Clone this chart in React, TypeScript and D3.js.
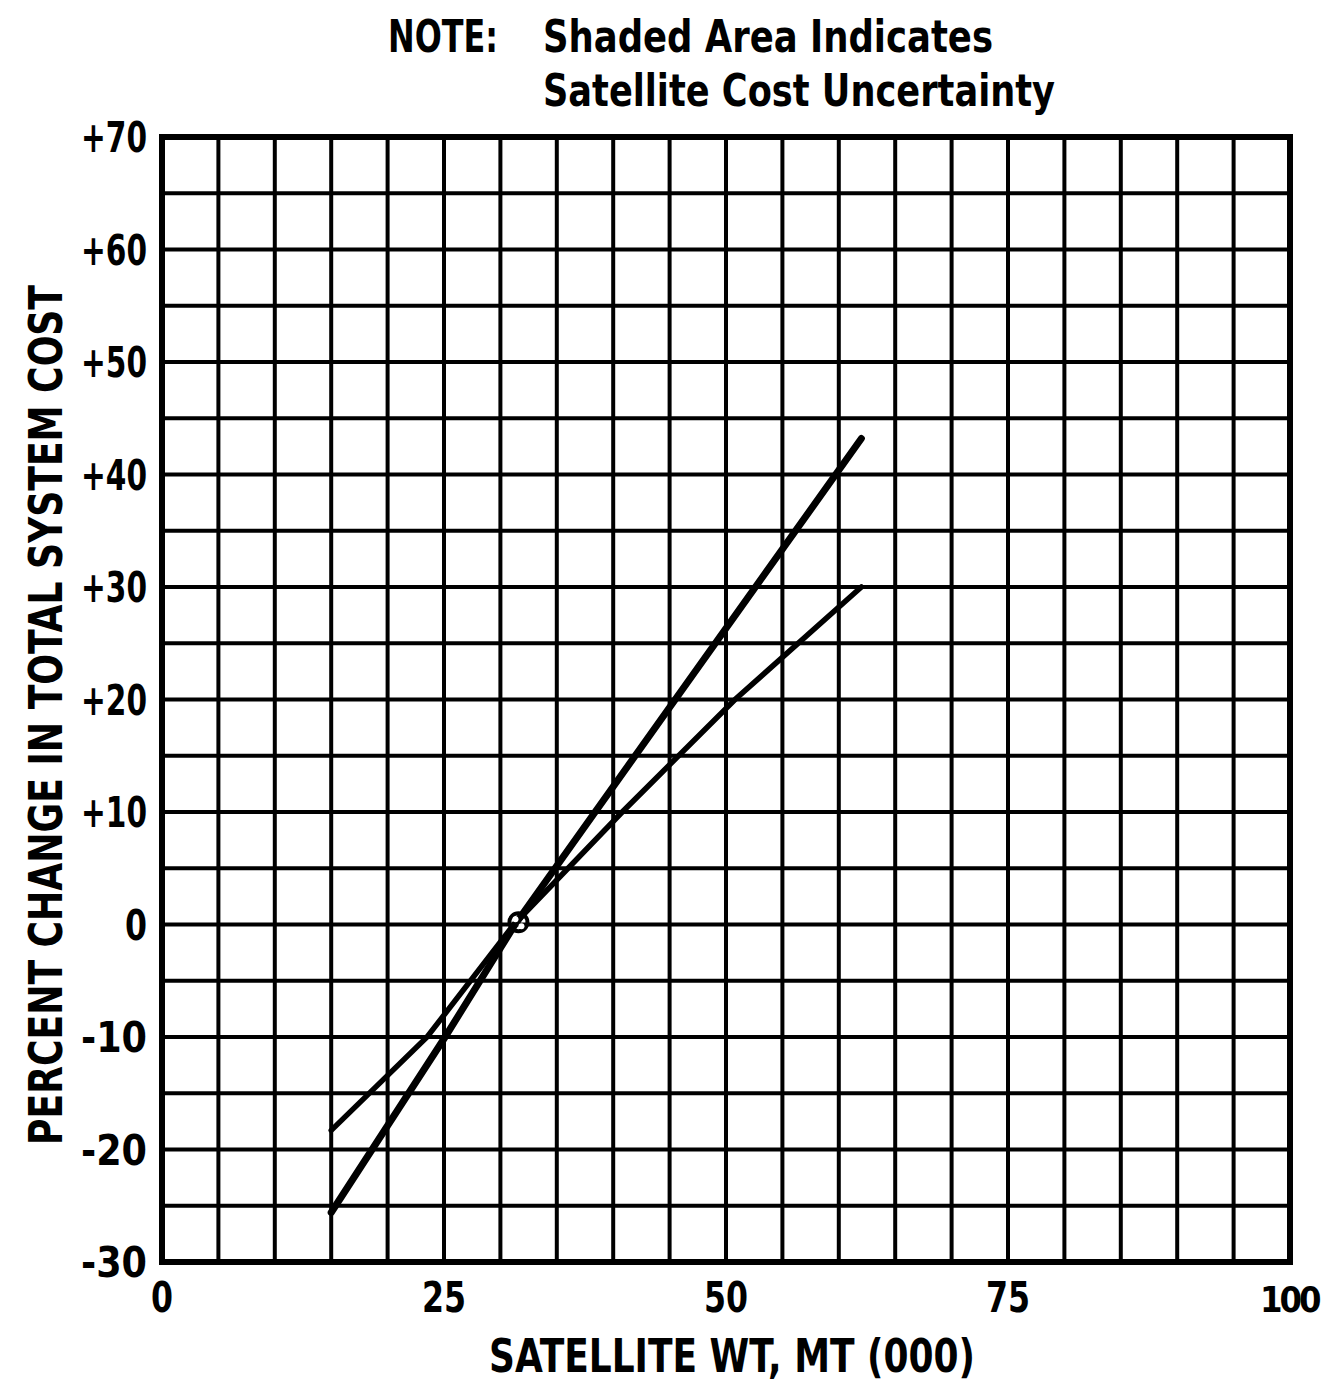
import React from "react";
import * as d3 from "d3";

const xTicks = [0, 25, 50, 75, 100];
const xTickLabels = ["0", "25", "50", "75", "100"];
const yTicks = [70, 60, 50, 40, 30, 20, 10, 0, -10, -20, -30];
const yTickLabels = ["+70", "+60", "+50", "+40", "+30", "+20", "+10", "0", "-10", "-20", "-30"];

// upper bound (steep) and lower bound (shallow) of satellite cost uncertainty
const steepX = [15, 25.1, 31.3, 45.5, 62];
const steepY = [-25.6, -10, 0, 20, 43.2];
const shallowX = [15, 23.5, 31.2, 40.8, 50.8, 62];
const shallowY = [-18.3, -10, 0, 10, 20, 30];
const refPoint = { x: 31.6, y: 0.2 };

const xTitle = "SATELLITE WT,  MT (000)";
const yTitle = "PERCENT CHANGE IN TOTAL SYSTEM COST";
const noteLead = "NOTE:";
const noteLines = ["Shaded Area Indicates", "Satellite Cost Uncertainty"];

const W = 1329;
const H = 1386;
const FONT = "'DejaVu Sans Condensed', 'Liberation Sans Narrow', sans-serif";

export default function App() {
  const x = d3.scaleLinear().domain([0, 100]).range([162, 1290]);
  const y = d3.scaleLinear().domain([-30, 70]).range([1262, 137]);
  const gridX = d3.range(0, 101, 5);
  const gridY = d3.range(-30, 71, 5);

  const line = d3
    .line<[number, number]>()
    .x((d) => x(d[0]))
    .y((d) => y(d[1]));
  const steep: [number, number][] = steepX.map((v, i) => [v, steepY[i]]);
  const shallow: [number, number][] = shallowX.map((v, i) => [v, shallowY[i]]);

  const xLabelLen = (s: string) => (s.length === 1 ? 22 : 44);
  const yLabelLen = (s: string) => (s.length === 1 ? 22 : 66);

  return (
    <svg
      width={W}
      height={H}
      style={{ position: "absolute", left: 0, top: 0, background: "#fff" }}
      fontFamily={FONT}
      fontWeight="bold"
    >
      <rect x={0} y={0} width={W} height={H} fill="#fff" />
      {/* grid */}
      <g stroke="#000" strokeWidth={4}>
        {gridX.map((v) => (
          <line key={"gx" + v} x1={x(v)} x2={x(v)} y1={y(-30)} y2={y(70)} />
        ))}
        {gridY.map((v) => (
          <line key={"gy" + v} x1={x(0)} x2={x(100)} y1={y(v)} y2={y(v)} />
        ))}
      </g>
      <rect
        x={x(0)}
        y={y(70)}
        width={x(100) - x(0)}
        height={y(-30) - y(70)}
        fill="none"
        stroke="#000"
        strokeWidth={6}
      />
      {/* data lines */}
      <path d={line(shallow) || ""} fill="none" stroke="#000" strokeWidth={5.5} strokeLinecap="round" />
      <path d={line(steep) || ""} fill="none" stroke="#000" strokeWidth={7} strokeLinecap="round" />
      <circle cx={x(refPoint.x)} cy={y(refPoint.y)} r={9} fill="none" stroke="#000" strokeWidth={4} />
      <circle cx={x(refPoint.x) - 3} cy={y(refPoint.y) - 3} r={3} fill="#fff" />
      <circle cx={x(refPoint.x) + 3} cy={y(refPoint.y) + 4} r={3} fill="#fff" />
      {/* y tick labels */}
      {yTicks.map((v, i) => (
        <text
          key={"yl" + v}
          x={147}
          y={y(v)}
          dy="0.36em"
          textAnchor="end"
          fontSize={42}
          textLength={yLabelLen(yTickLabels[i])}
          lengthAdjust="spacingAndGlyphs"
        >
          {yTickLabels[i]}
        </text>
      ))}
      {/* x tick labels */}
      {xTicks.map((v, i) => {
        const last = i === xTicks.length - 1;
        return last ? (
          <text
            key={"xl" + v}
            x={x(v) - 30}
            y={1312}
            textAnchor="start"
            fontSize={36}
            letterSpacing={-3}
          >
            {xTickLabels[i]}
          </text>
        ) : (
          <text
            key={"xl" + v}
            x={x(v)}
            y={1312}
            textAnchor="middle"
            fontSize={42}
            textLength={xLabelLen(xTickLabels[i])}
            lengthAdjust="spacingAndGlyphs"
          >
            {xTickLabels[i]}
          </text>
        );
      })}
      {/* axis titles */}
      <text
        x={732}
        y={1372}
        textAnchor="middle"
        fontSize={46}
        textLength={486}
        lengthAdjust="spacingAndGlyphs"
      >
        {xTitle}
      </text>
      <text
        transform={`translate(62, 715) rotate(-90)`}
        textAnchor="middle"
        fontSize={46}
        textLength={860}
        lengthAdjust="spacingAndGlyphs"
      >
        {yTitle}
      </text>
      {/* note */}
      <text x={388} y={52} fontSize={44} textLength={110} lengthAdjust="spacingAndGlyphs">
        {noteLead}
      </text>
      <text x={543} y={52} fontSize={44} textLength={450} lengthAdjust="spacingAndGlyphs">
        {noteLines[0]}
      </text>
      <text x={543} y={106} fontSize={44} textLength={512} lengthAdjust="spacingAndGlyphs">
        {noteLines[1]}
      </text>
    </svg>
  );
}
